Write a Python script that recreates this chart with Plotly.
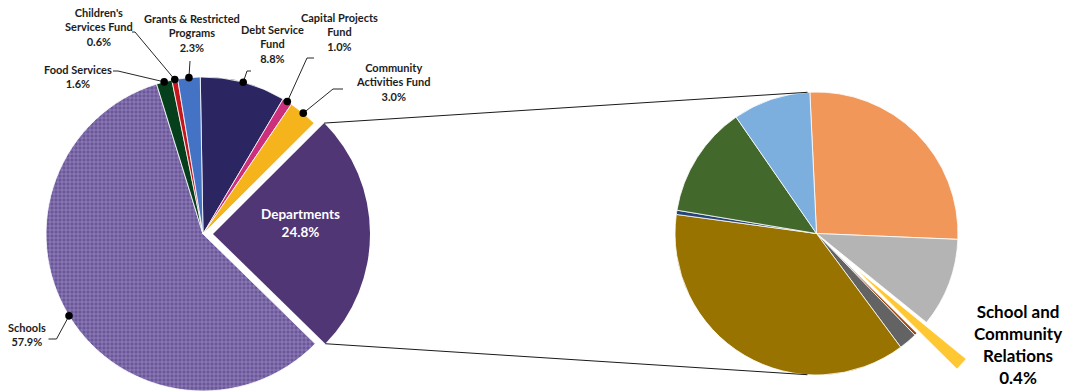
import math
import plotly.graph_objects as go

W, H = 1068, 392

# ---------------- data ----------------
fund_labels = ["Debt Service Fund", "Capital Projects Fund", "Community Activities Fund",
               "Departments", "Schools", "Food Services", "Children's Services Fund",
               "Grants & Restricted Programs"]
fund_pct = [8.8, 1.0, 3.0, 24.8, 57.9, 1.6, 0.6, 2.3]
fund_text = ["Debt Service<br>Fund<br>8.8%", "Capital Projects<br>Fund<br>1.0%",
             "Community<br>Activities Fund<br>3.0%", "Departments<br>24.8%",
             "Schools<br>57.9%", "Food Services<br>1.6%",
             "Children's<br>Services Fund<br>0.6%", "Grants & Restricted<br>Programs<br>2.3%"]

dept_labels = ["Department 1", "Department 2", "School and Community Relations",
               "Department 3", "Department 4", "Department 5", "Department 6",
               "Department 7", "Department 8"]
dept_pct = [6.55, 2.52, 0.40, 0.08, 0.52, 9.25, 0.12, 3.16, 2.20]

# ---------------- styles / layout ----------------
fund_colors = ['#2b2661', '#cc2f7c', '#f5b41c', '#513675', '#6a5698', '#063f1c', '#c4161c', '#4472c4']
dept_colors = ['#f1975a', '#b4b4b4', '#ffc833', '#9e480e', '#636363', '#997300', '#264478', '#43682b', '#7cafdd']
CLEAR = 'rgba(0,0,0,0)'
FONT = 'Lato, "Open Sans", sans-serif'
TXT = '#1c1c1c'

CXL, CYL, RL, ROT_L = 203, 234, 157, -1.0      # main pie
EXPLODE_L = 10                                  # px for Departments
CXR, CYR, RR, ROT_R = 816.5, 233.5, 141.5, -2.7  # secondary pie
PULL_R = 0.38                                   # exploded highlighted slice
DEPT_IDX = fund_labels.index("Departments")
HL_IDX = dept_labels.index("School and Community Relations")


def slice_angles(values, rotation):
    tot = sum(values)
    out, a = [], rotation
    for v in values:
        b = a + 360.0 * v / tot
        out.append((a, b))
        a = b
    return out


def pt(cx, cy, r, ang):
    t = math.radians(ang)
    return cx + r * math.sin(t), cy - r * math.cos(t)


def dom(cx, cy, r):
    return dict(x=[(cx - r) / W, (cx + r) / W], y=[1 - (cy + r) / H, 1 - (cy - r) / H])


def tangent_point(P, C, R, upper):
    dx, dy = C[0] - P[0], C[1] - P[1]
    d = math.hypot(dx, dy)
    base = math.atan2(dy, dx)
    alpha = math.asin(R / d)
    ang = base - alpha if upper else base + alpha
    L = math.sqrt(d * d - R * R)
    return P[0] + L * math.cos(ang), P[1] + L * math.sin(ang)


angL = slice_angles(fund_pct, ROT_L)
angR = slice_angles(dept_pct, ROT_R)

fig = go.Figure()

# main pie (Departments slot left empty)
colsA = [CLEAR if i == DEPT_IDX else c for i, c in enumerate(fund_colors)]
fig.add_trace(go.Pie(
    labels=fund_labels, values=fund_pct, sort=False, direction='clockwise', rotation=ROT_L,
    domain=dom(CXL, CYL, RL), textinfo='none', hoverinfo='label+percent', showlegend=False,
    marker=dict(colors=colsA,
                line=dict(color=[CLEAR if i == DEPT_IDX else 'white' for i in range(len(fund_pct))], width=0.8),
                pattern=dict(shape=['+' if l == 'Schools' else '' for l in fund_labels],
                             bgcolor=colsA,
                             fgcolor=['#a395c9' if l == 'Schools' else c for l, c in zip(fund_labels, colsA)],
                             size=4, solidity=0.28, fillmode='replace'))))

# exploded Departments slice
dmid = sum(angL[DEPT_IDX]) / 2
sx, sy = EXPLODE_L * math.sin(math.radians(dmid)), -EXPLODE_L * math.cos(math.radians(dmid))
colsB = [c if i == DEPT_IDX else CLEAR for i, c in enumerate(fund_colors)]
fig.add_trace(go.Pie(
    labels=fund_labels, values=fund_pct, sort=False, direction='clockwise', rotation=ROT_L,
    domain=dom(CXL + sx, CYL + sy, RL), textinfo='none', hoverinfo='skip', showlegend=False,
    marker=dict(colors=colsB, line=dict(color=CLEAR, width=0))))

# secondary pie (highlighted slice left empty)
colsC = [CLEAR if i == HL_IDX else c for i, c in enumerate(dept_colors)]
fig.add_trace(go.Pie(
    labels=dept_labels, values=dept_pct, sort=False, direction='clockwise', rotation=ROT_R,
    domain=dom(CXR, CYR, RR), textinfo='none', hoverinfo='label+value', showlegend=False,
    marker=dict(colors=colsC,
                line=dict(color=[CLEAR if i == HL_IDX else 'white' for i in range(len(dept_pct))], width=0.8))))

# exploded highlighted slice drawn on pixel axes
a0, a1 = angR[HL_IDX]
am = (a0 + a1) / 2
vx, vy = pt(CXR, CYR, PULL_R * RR, am)
xs, ys = [vx], [vy]
for k in range(21):
    a = a0 + (a1 - a0) * k / 20
    px, py = pt(vx, vy, RR, a)
    xs.append(px); ys.append(py)
xs.append(vx); ys.append(vy)
fig.add_trace(go.Scatter(x=xs, y=ys, mode='lines', fill='toself', fillcolor=dept_colors[HL_IDX],
                         line=dict(color='white', width=0.6), hoverinfo='skip', showlegend=False))

shapes = []
# connector lines between pies
P1 = pt(CXL + sx, CYL + sy, RL, angL[DEPT_IDX][0])
P2 = pt(CXL + sx, CYL + sy, RL, angL[DEPT_IDX][1])
T1 = tangent_point(P1, (CXR, CYR), RR, True)
T2 = tangent_point(P2, (CXR, CYR), RR, False)
for P, T in ((P1, T1), (P2, T2)):
    shapes.append(dict(type='line', xref='x', yref='y', x0=P[0], y0=P[1], x1=T[0], y1=T[1],
                       line=dict(color='#1a1a1a', width=1)))

# label positions and leader elbows (layout)
label_pos = {
    "Debt Service Fund": (272, 44),
    "Capital Projects Fund": (339, 32),
    "Community Activities Fund": (393, 82),
    "Schools": (27, 334.5),
    "Food Services": (78, 76),
    "Children's Services Fund": (99, 27),
    "Grants & Restricted Programs": (192, 32.5),
}
leaders = {
    "Debt Service Fund": [(247, 71), (251, 71)],
    "Capital Projects Fund": [(307, 58), (314, 58)],
    "Community Activities Fund": [(333, 89), (343, 89)],
    "Schools": [(56.5, 339), (48.5, 339)],
    "Food Services": [(118, 71), (113, 71)],
    "Children's Services Fund": [(135, 32), (132, 32)],
    "Grants & Restricted Programs": [(190, 61)],
}

annotations = []
for i, lab in enumerate(fund_labels):
    if lab == "Departments":
        continue
    mid = sum(angL[i]) / 2
    dx, dy = pt(CXL, CYL, RL, mid)
    path = f"M{dx},{dy}" + "".join(f" L{x},{y}" for x, y in leaders[lab])
    shapes.append(dict(type='path', xref='x', yref='y', path=path, line=dict(color='#262626', width=1)))
    shapes.append(dict(type='circle', xref='x', yref='y', x0=dx - 3.8, x1=dx + 3.8, y0=dy - 3.8, y1=dy + 3.8,
                       fillcolor='black', line=dict(width=0)))
    lx, ly = label_pos[lab]
    annotations.append(dict(x=lx, y=ly, xref='x', yref='y', text=f"<b>{fund_text[i]}</b>", showarrow=False,
                            font=dict(family=FONT, size=11, color=TXT), align='center',
                            xanchor='center', yanchor='middle'))

annotations.append(dict(x=300, y=222.5, xref='x', yref='y', text=f"<b>{fund_text[DEPT_IDX]}</b>",
                        showarrow=False, font=dict(family=FONT, size=13.5, color='white'),
                        align='center', xanchor='center', yanchor='middle'))
annotations.append(dict(x=1018, y=344, xref='x', yref='y',
                        text=f"<b>School and<br>Community<br>Relations<br>{dept_pct[HL_IDX]:.1f}%</b>",
                        showarrow=False, font=dict(family=FONT, size=17, color='black'),
                        align='center', xanchor='center', yanchor='middle'))

fig.update_layout(
    width=W, height=H, margin=dict(l=0, r=0, t=0, b=0, pad=0),
    paper_bgcolor='white', plot_bgcolor='white',
    xaxis=dict(range=[0, W], visible=False, fixedrange=True),
    yaxis=dict(range=[H, 0], visible=False, fixedrange=True),
    shapes=shapes, annotations=annotations, showlegend=False,
)

fig.write_html("out.html")
